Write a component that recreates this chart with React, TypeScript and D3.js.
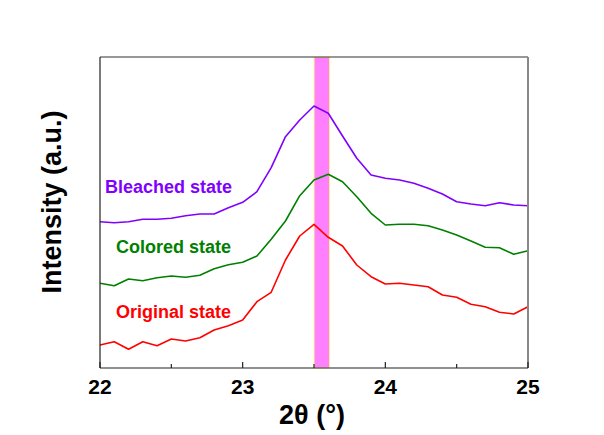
import React from "react";
import * as d3 from "d3";

const twoTheta: number[] = [
  22.0, 22.1, 22.2, 22.3, 22.4, 22.5, 22.6, 22.7, 22.8, 22.9,
  23.0, 23.1, 23.2, 23.3, 23.4, 23.5, 23.6, 23.7, 23.8, 23.9,
  24.0, 24.1, 24.2, 24.3, 24.4, 24.5, 24.6, 24.7, 24.8, 24.9, 25.0,
];

// intensity (a.u.), arbitrary offset units
const original: number[] = [
  23, 26.3, 18.7, 26.3, 22.3, 29, 27, 30.3, 38, 42.3,
  48, 66.3, 75.7, 108, 132, 143.7, 130.7, 122, 103, 91.3,
  84, 84.7, 83, 81.3, 73, 70.7, 63.7, 61.3, 55.7, 54, 61.3,
];
const colored: number[] = [
  84.7, 82.3, 89, 87.3, 90.3, 92, 90.7, 92.7, 99.3, 103.3,
  105.7, 112, 128.7, 147, 172.3, 188, 193.7, 186.3, 171.3, 154.7,
  143, 143.7, 143.7, 142.3, 138, 133, 127, 120.7, 120.3, 113.7, 117.3,
];
const bleached: number[] = [
  146.3, 145.3, 146.3, 148.7, 148.7, 149.7, 152.3, 154, 154, 160.3,
  165.7, 176.3, 200.3, 231.3, 248, 262, 254.7, 232, 209.7, 193,
  189.7, 188, 184.7, 179.7, 174, 166.3, 164, 162.3, 165.3, 163, 162.3,
];

const seriesNames: string[] = ["Original state", "Colored state", "Bleached state"];
const seriesColors: string[] = ["#ff0000", "#008000", "#8000ff"];
const xTicks: number[] = [22, 23, 24, 25];
const xMinorTicks: number[] = [22.5, 23.5, 24.5];
const bandRange: number[] = [23.5, 23.61];

export default function App() {
  const W = 604, H = 435;
  const left = 100, right = 528, top = 57, bottom = 368;
  const x = d3.scaleLinear().domain([22, 25]).range([left, right]);
  const y = d3.scaleLinear().domain([0, 311]).range([bottom, top]);
  const line = d3.line<number>().x((_, i) => x(twoTheta[i])).y((d) => y(d));
  const series = [original, colored, bleached];
  const labelPos = [
    { x: 116, y: 318 },
    { x: 116, y: 253 },
    { x: 105, y: 193 },
  ];
  const font = "'Liberation Sans', Arial, sans-serif";

  return (
    <svg width={W} height={H} style={{ position: "absolute", left: 0, top: 0 }} fontFamily={font}>
      <rect x={0} y={0} width={W} height={H} fill="#ffffff" />
      <rect x={x(bandRange[0])} y={top} width={x(bandRange[1]) - x(bandRange[0])} height={bottom - top}
        fill="#ff80ff" stroke="#ffff80" strokeWidth={1} />
      {series.map((s, k) => (
        <path key={k} d={line(s) || ""} fill="none" stroke={seriesColors[k]} strokeWidth={1.6} strokeLinejoin="round" />
      ))}
      {/* frame */}
      <line x1={left} y1={top} x2={right} y2={top} stroke="#333" strokeWidth={1.2} />
      <line x1={right} y1={top} x2={right} y2={bottom} stroke="#888" strokeWidth={2} />
      <line x1={left} y1={top} x2={left} y2={bottom} stroke="#222" strokeWidth={1.2} />
      <line x1={left} y1={bottom} x2={right} y2={bottom} stroke="#222" strokeWidth={1.2} />
      {xTicks.map((t) => (
        <g key={"M" + t}>
          <line x1={x(t)} x2={x(t)} y1={bottom} y2={bottom - 6} stroke="#222" strokeWidth={1.2} />
          <text x={x(t)} y={394} textAnchor="middle" fontSize={21} fontWeight="bold" fill="#000">{t}</text>
        </g>
      ))}
      {xMinorTicks.map((t) => (
        <line key={"m" + t} x1={x(t)} x2={x(t)} y1={bottom} y2={bottom - 4} stroke="#222" strokeWidth={1.2} />
      ))}
      {seriesNames.map((n, k) => (
        <text key={n} x={labelPos[k].x} y={labelPos[k].y} fontSize={18} fontWeight="bold" fill={seriesColors[k]}>{n}</text>
      ))}
      <text x={312} y={424} textAnchor="middle" fontSize={27} fontWeight="bold" fill="#000">2θ (°)</text>
      <text transform={`translate(61,202) rotate(-90)`} textAnchor="middle" fontSize={27} fontWeight="bold" fill="#000">Intensity (a.u.)</text>
    </svg>
  );
}
